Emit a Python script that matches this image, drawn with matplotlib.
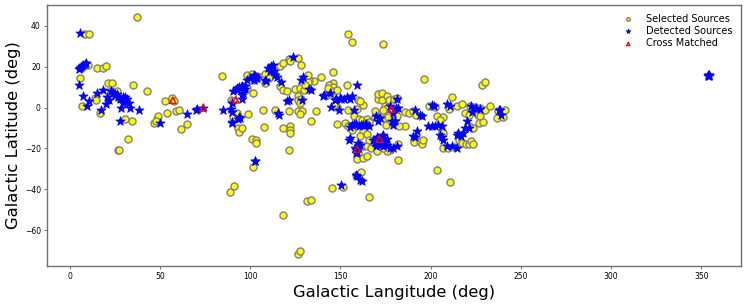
import matplotlib
matplotlib.use("Agg")
import matplotlib.pyplot as plt

# selected sources (galactic lon, lat)
selected = [
    (8.5, 36.2), (11, 36.0), (37.5, 44.5), (10, 21), (5.5, 14.4), (15, 19.6), (18.5, 19.3),
    (20, 20.3), (21.3, 12.1), (23.4, 11.9), (35.1, 11.3), (7, 0.8), (14.2, 4.6), (14.8, 3.9),
    (16.6, -2.6), (26.2, 8.1), (43, 8.3), (30.8, -5.7), (34.6, -6.8), (32.3, -15.4),
    (26.9, -20.7), (27.6, -21), (46.6, -7.6), (48.5, -5.7), (49, -4), (48, -6.5), (52.8, 3.2),
    (54, -2.4), (56.6, 4.6), (57.8, 3.2), (58.8, -1.8), (60.6, -1.3), (61.6, -10.6),
    (65.1, -8.2), (84.2, 15.4), (88.8, -41.3), (91.3, -38.2), (89.2, 3.9), (90.5, 3.1),
    (92.8, -2.6), (90.8, -4.5), (93.3, -10.1), (93.6, -12), (95.3, -9.8), (98.6, -3.3),
    (98.2, 16), (101, 16.6), (103.6, 15.3), (98.2, 9.6), (101.8, 7.2), (101.5, -28.9),
    (101.3, -15.4), (103.3, -15.8), (103.3, -17.3), (23, 8), (25, 6), (28, 4.5), (31, 3),
    (104.3, 14.9), (102.8, 15.3), (101.9, 13.7), (107, 15.7), (108.4, 16.5), (110.6, 14.6),
    (113, 17), (116.3, 20.2), (118.5, 21.6), (121.7, 24), (121.9, 23), (126.7, 24.4),
    (128.3, 20.7), (116.3, 10.4), (118.5, 8.8), (120.7, 8), (125, 9.2), (127.4, 9.6),
    (130, 8.8), (126.8, 5.9), (126.5, 3.9), (128.3, 4.3), (127.7, 2.3), (121.8, -1.8),
    (113.9, -1), (107.4, -1), (126.8, -1.8), (128.7, -1.8), (127.7, -3.1), (107.9, -9.5),
    (118.5, -10), (122.2, -9.2), (122.2, -10.8), (122.2, -12.4), (136.4, -1.8), (133.7, -6.5),
    (121.8, -20.9), (131.4, -45.9), (133.8, -45.4), (118.3, -52.8), (126.8, -71.6),
    (127.6, -70.4), (135.3, 12.9), (132.7, 13.6), (132.3, 12.4), (139.2, 14.9), (146, 17.6),
    (154, 35.9), (156.5, 32.3), (173.7, 31), (132.3, 16.2), (130.6, 11.3), (108.4, 12.1),
    (144.4, 11.3), (146.2, 12.1), (147.7, 8.8), (145.3, 9.7), (144.4, 7.2),
    (153.6, 11.1), (143.8, 11.3), (146.2, 10.1), (145.3, 8), (142.5, 6.4), (143.4, 9.6),
    (148.4, 8.8), (148, 0.3), (146.7, 1.5), (154.5, -1.3), (159.5, -0.6), (162.8, 1.3),
    (160, 3.6), (161, 3.1), (157.7, -4.3), (160.5, -5.7), (162, -5.9), (164.7, -5.4),
    (165.6, -7.2), (163.7, -7.5), (153.6, -8.3), (156.4, -9.1), (148, -7.8), (152.7, -7.5),
    (154.5, -9.2), (156.7, -10.8), (162.8, -11.6), (165, -12.7), (161, -14), (162.8, -18.6),
    (164.5, -19), (160, -22.2), (159.5, -25), (162.8, -24.7), (164.7, -23.9), (165.6, -15.7),
    (167, -19.8), (170.2, -21.4), (175.4, -17.3), (176.7, -20.2), (182.2, -17.6),
    (177.6, -20.6), (182.2, -25.5), (175.7, -21.4), (173.9, -19.8), (158.8, -32.8),
    (161.5, -31.7), (145.2, -39.4), (151.5, -38.8), (166, -43.9), (169.3, -1.8), (173, -2.6),
    (169.3, -4.6), (170.8, 4.3), (173, 3.9), (171, 6.7), (173, 7.2), (175.7, 5.5),
    (177.2, 3.9), (179.8, 4.3), (181.3, 4.8), (174.8, 1), (175.7, -0.2), (173.9, -1),
    (174.8, -5.1), (176.3, -4.8), (175.4, -8.3), (181.3, -4.3), (185.9, -9.2), (182.6, -9.2),
    (185.9, -2.3), (188.3, -2.6), (190.5, -1.8), (191.8, -3.4), (191, -17), (194.2, -16.5),
    (195.1, -17.6), (196, -15.7), (196.6, 14.1), (203.6, -30.4), (210.8, -36.6),
    (199.3, 0.6), (202.5, 0.3), (203.8, -3.9), (206.8, -4.6), (205.3, -6.2), (212.1, 5),
    (214.5, 1), (217.6, 1.8), (221.9, 0.6), (224.6, 0.3), (227.4, -0.2), (230.2, -1),
    (210.4, -0.5), (219.1, -2.6), (221, -3.4), (226.5, -3.4), (227.4, -4.3), (233, 0.6),
    (228.3, 11.3), (230.2, 12.4), (227, -7.5), (229.2, -7.2), (206.2, -11.6), (207.1, -12.4),
    (207.1, -19.8), (209.9, -19.8), (213, -19.3), (216, -15.7), (217.3, -17.3),
    (219.7, -17.6), (221.5, -17.6), (222.3, -16.5), (221, -9.2), (223.7, -10), (223.4, -17.6),
    (236.6, -5), (237.5, -1.8), (241.1, -1.3), (240, -4.6),
]

# detected sources
detected = [
    (6, 36.7), (5, 19), (5.7, 19.5), (6.4, 20), (7, 20.5), (7.7, 21), (8.4, 21.5), (9, 22),
    (5.3, 11), (7.2, 5.9), (9.8, 0.6), (10.9, 3), (15.2, 7.2), (18.7, 8.8), (17.3, -1.4),
    (20, 1.8), (21, 5), (21.7, 3.8), (23, 8), (24, 7.3), (25, 6), (26.2, 6.8), (26.8, 5.3),
    (28, 4.4), (29.5, 5.2), (30.6, 5.3), (30.4, 3.1), (29.8, 2.3), (31.8, 4), (32.8, 2.2),
    (28.4, -0.4), (33.4, -0.3), (38.3, -1.1), (28.2, -6.6), (50, -7.3), (65.3, -2.9),
    (70.3, -1.4), (70.6, -0.6), (74, 0), (84.8, -1), (89.8, 2.2), (89.6, -0.7), (89.8, -2.1),
    (89.9, -6.9), (90.2, -7.4), (93.8, -4.7), (94.5, -5.2), (93.5, -5.5), (92.7, 9.6),
    (94, 10), (95, 10), (96, 10.2), (97, 10.5), (95.3, 6.3), (95.6, 4), (90.8, 8),
    (92.7, 8.8), (96.3, 7.2), (97.3, 9.2), (95.5, 10.4), (98.5, 13.7), (100, 14.4), (102, 16),
    (103.5, 14.4), (102.8, -26), (102.5, -26.1),
    (110.2, 19.5), (111.5, 20.6), (112.6, 21.1), (113, 18.1), (111.1, 17.8), (114, 16),
    (114.8, 15), (102.8, 15.7), (103.8, 14.6), (101.9, 13.7), (108.4, 13.7), (108.9, 12.9),
    (117, 12.4), (116.1, -3.4), (115.7, -2.6), (120.7, 3.1), (121.8, 3.6), (128.7, 3.9),
    (128.1, 13.7), (129.2, 15), (132.7, 9.2), (133.7, 8.8), (123.7, 24.8),
    (140.6, 5.5), (141, 6.3), (144.4, 7.2), (147.1, 3.9), (149.9, 4.8), (153.6, 5.2),
    (156.4, 5.5), (144.7, 0.2), (149.5, -1.3), (147.7, 4.2), (150.5, 4.0), (152, 4.3),
    (155.4, 4.1), (159.5, 11.1), (157.3, -1),
    (156.4, -8.5), (157.5, -8.2), (158.6, -8), (160.5, -9), (161.5, -8.6), (162.4, -8.5),
    (163.5, -8.3), (164.2, -8.2), (165.7, -8.8), (155.5, -9.5), (155.4, -14.9), (155, -15.7),
    (160, -17.3), (161, -18.1), (158.2, -19.8), (158.7, -22.2), (160, -19), (158.5, -21),
    (159, -21.5), (159.1, -33.7), (161, -35.3), (161.9, -35.8), (158.7, -32.8), (150.3, -37.9),
    (169.8, -4.2), (172, -5.1), (170.8, -6.4), (177.6, 0.6), (179, -2.6), (182.2, -0.2),
    (181.3, 4.3), (181, 0), (178.5, -6.7), (180.3, -6.7), (179.4, -8.3),
    (168.3, -15.7), (170.2, -16.5), (173, -14), (173.9, -13.2), (174.8, -16.5), (172, -18.1),
    (169.8, -18.6), (173.9, -19), (175.7, -15.4), (169.2, -17.3), (177.6, -19.8),
    (181.3, -19), (179.4, -19.8), (171, -15), (172.5, -16), (171.5, -17), (174, -17.5),
    (176, -18.5), (170.5, -14.5),
    (191.4, -1), (194.2, -3.4), (195.1, -3.9), (190.1, -13.7), (191.4, -14.6), (192.4, -11.6),
    (198.8, -9.2), (200.7, -9.2), (202.5, -8.8), (204.3, -8.3), (206.2, -8.8), (201, 1.1),
    (202, 0.6), (209, 2), (210.8, 1), (222.3, 1), (225.2, -0.2), (227.4, -0.6), (223, -2),
    (205.3, -13.2), (206.2, -14.4), (207.1, -15.7), (209, -19), (211.7, -19), (214.5, -19.8),
    (214.5, -13.2), (216.7, -14), (215.4, -12.4), (218.2, -12.4), (219.1, -10), (220, -6.7),
    (221.5, -10), (238, -1.3), (238.5, -1.3), (239, -3.4),
    (353.8, 15.6), (354.2, 16.2), (354.5, 15.8), (353.6, 16), (354, 15.3),
]

# cross matched
cross = [(57.2, 3.6), (74, 0), (92.1, 3.9), (159.2, -20.3), (171.6, -15.4), (178.3, -0.7)]

sel_lon, sel_lat = zip(*selected)
det_lon, det_lat = zip(*detected)
cm_lon, cm_lat = zip(*cross)

fig = plt.figure(figsize=(7.47, 3.04), dpi=100)
ax = fig.add_axes([0.063, 0.126, 0.929, 0.858])

ax.scatter(sel_lon, sel_lat, s=26, c='yellow', edgecolors='grey', linewidths=1.0,
           label='Selected Sources')
ax.scatter(det_lon, det_lat, s=46, marker='*', c='blue', edgecolors='blue',
           linewidths=0.6, label='Detected Sources')
ax.scatter(cm_lon, cm_lat, s=22, marker='^', facecolors='none', edgecolors='red',
           linewidths=1.0, label='Cross Matched')

ax.set_xlabel("Galactic Langitude (deg)", fontsize=11.8, labelpad=3)
ax.set_ylabel("Galactic Latitude (deg)", fontsize=11.8, labelpad=3)
ax.set_xticks([0, 50, 100, 150, 200, 250, 300, 350])
ax.set_yticks([-60, -40, -20, 0, 20, 40])
ax.tick_params(labelsize=5.5, length=2.5, width=0.6, pad=2, color='#555555')
for sp in ax.spines.values():
    sp.set_color('#707070')
    sp.set_linewidth(1.0)

ax.legend(loc='upper right', frameon=False, fontsize=7, markerscale=0.5,
          handletextpad=0.8, labelspacing=0.25)

fig.savefig("out.png", dpi=100)
